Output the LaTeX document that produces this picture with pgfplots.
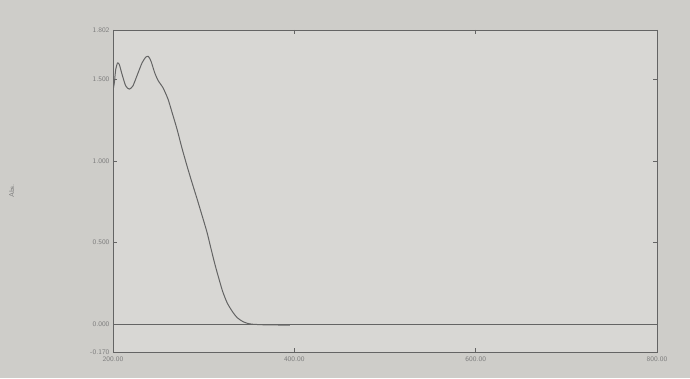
\documentclass[border=0pt]{standalone}
\usepackage{pgfplots}
\pgfplotsset{compat=1.18}
\definecolor{bg}{RGB}{206,205,201}
\definecolor{ln}{RGB}{100,100,100}
\definecolor{tx}{RGB}{125,125,125}
\begin{document}
\begin{tikzpicture}[x=1pt,y=1pt]
\fill[bg] (0,0) rectangle (690,378);
\fill[bg!80!white] (113,26) rectangle (657,348);
\begin{axis}[
  at={(113pt,26pt)}, anchor=south west,
  scale only axis, width=544pt, height=322pt,
  xmin=200, xmax=800, ymin=-0.170, ymax=1.802,
  axis line style={ln, line width=0.9pt},
  xtick={200,400,600,800},
  xticklabels={200.00,400.00,600.00,800.00},
  ytick={-0.170,0,0.5,1,1.5,1.802},
  yticklabels={-0.170,0.000,0.500,1.000,1.500,1.802},
  tick style={ln, line width=0.6pt},
  major tick length=4pt,
  tick align=inside,
  ticklabel style={font=\sffamily\scriptsize, text=tx},
  xticklabel style={yshift=-1pt},
  ylabel={Abs.}, ylabel style={font=\sffamily\scriptsize, text=tx, at={(-0.175,0.5)}},
]
\addplot[ln, line width=0.9pt] coordinates {(200,0) (800,0)};
\addplot[ln, line width=1pt, smooth, tension=0.4] coordinates {
(200,1.43) (201.5,1.48) (203,1.56) (205,1.60) (207,1.59) (210,1.53) (214,1.46) (218,1.44)
(222,1.46) (227,1.53) (232,1.60) (236,1.635) (239,1.64) (242,1.61) (246,1.54) (250,1.49)
(255,1.45) (260.6,1.38) (265,1.30) (270.6,1.195) (276,1.08) (281.6,0.97)
(287,0.87) (292.6,0.77) (298,0.67) (303.6,0.565) (308,0.465) (312.5,0.365)
(317,0.275) (321,0.20) (326,0.13) (332,0.075) (337,0.04) (343,0.017)
(348,0.006) (354,0.0) (370,-0.004) (395,-0.005)};
\end{axis}
\end{tikzpicture}
\end{document}
